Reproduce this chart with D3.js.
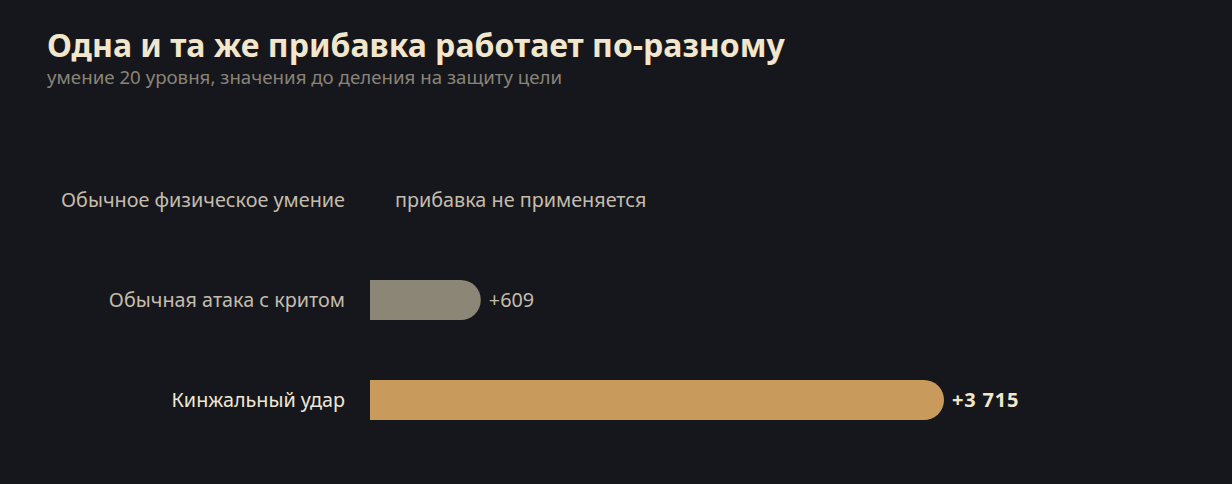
<!DOCTYPE html>
<html>
<head>
<meta charset="utf-8">
<script src="https://cdn.jsdelivr.net/npm/d3@7"></script>
<style>
  html, body { margin: 0; padding: 0; background: #16171c; }
  svg { display: block; font-family: "Noto Sans", "Open Sans", sans-serif; }
</style>
</head>
<body>
<svg id="chart" width="1232" height="484"></svg>
<script>
// data
var categories = ['Обычное физическое умение', 'Обычная атака с критом', 'Кинжальный удар'];
var bonusValues = [null, 609, 3715];
var valueLabels = ['прибавка не применяется', '+609', '+3 715'];

var width = 1232, height = 484;
var x0 = 370, capR = 20;

var svg = d3.select('#chart');
svg.append('rect').attr('width', width).attr('height', height).attr('fill', '#16171c');

svg.append('text')
    .attr('x', 47).attr('y', 57)
    .attr('fill', '#f2e6cc')
    .style('font-size', '32px')
    .style('font-weight', 700)
    .text('Одна и та же прибавка работает по-разному');
svg.append('text')
    .attr('x', 47).attr('y', 84)
    .attr('fill', '#8a8478')
    .style('font-size', '18.7px')
    .text('умение 20 уровня, значения до деления на защиту цели');

var y = d3.scaleBand()
    .domain(categories)
    .range([150, 450])
    .paddingInner(0.6)
    .paddingOuter(0.3);

var x = d3.scaleLinear()
    .domain([0, 3715])
    .range([0, 554]);

var rows = categories.map(function (c, i) {
    return { name: c, value: bonusValues[i], label: valueLabels[i], i: i };
});
var last = rows.length - 1;

var g = svg.selectAll('.row')
    .data(rows)
    .enter().append('g')
    .attr('class', 'row')
    .attr('transform', function (d) { return 'translate(0,' + y(d.name) + ')'; });

g.append('text')
    .attr('x', 345)
    .attr('y', y.bandwidth() / 2)
    .attr('dy', '0.35em')
    .attr('text-anchor', 'end')
    .attr('fill', function (d) { return d.i === last ? '#efe6d4' : '#c4bdad'; })
    .style('font-size', '19.8px')
    .text(function (d) { return d.name; });

// bar with rounded right end
function barPath(w, h, r) {
    return 'M0,0H' + (w - r) + 'A' + r + ',' + r + ' 0 0 1 ' + w + ',' + r +
        'V' + (h - r) + 'A' + r + ',' + r + ' 0 0 1 ' + (w - r) + ',' + h + 'H0Z';
}

g.filter(function (d) { return d.value != null; })
    .append('path')
    .attr('transform', 'translate(' + x0 + ',0)')
    .attr('d', function (d) { return barPath(x(d.value) + capR, y.bandwidth(), capR); })
    .attr('fill', function (d) { return d.i === last ? '#c89b5c' : '#8b8676'; });

g.append('text')
    .attr('x', function (d) { return d.value == null ? 395 : x0 + x(d.value) + capR + 8; })
    .attr('y', y.bandwidth() / 2)
    .attr('dy', '0.35em')
    .attr('fill', function (d) { return d.i === last ? '#f2e6cc' : '#c4bdad'; })
    .style('font-size', function (d) { return d.i === last ? '20px' : '19.8px'; })
    .style('font-weight', function (d) { return d.i === last ? 700 : 400; })
    .style('letter-spacing', function (d) { return d.i === last ? '0.8px' : '0px'; })
    .text(function (d) { return d.label; });
</script>
</body>
</html>
